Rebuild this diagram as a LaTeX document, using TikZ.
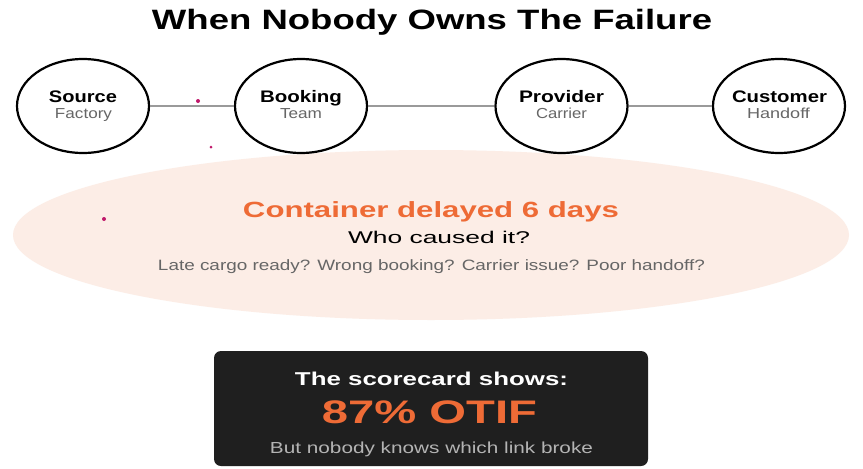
\documentclass[tikz,border=0pt]{standalone}
\usepackage{fontspec}
\setmainfont{Liberation Sans}
\usepackage{graphicx}
\definecolor{accent}{HTML}{EE6B36}
\definecolor{peach}{HTML}{FCEDE6}
\definecolor{darkbox}{HTML}{1F1F1F}
\definecolor{midgray}{HTML}{666666}
\definecolor{lightgray}{HTML}{B4B4B4}
\definecolor{linegray}{HTML}{9A9A9A}
\definecolor{dotmag}{HTML}{C0186A}
\newcommand{\fitw}[2]{\resizebox{#1pt}{\height}{#2}}
\tikzset{
  txt/.style={inner sep=0pt, anchor=base},
  stage/.style={draw=black, line width=2.2pt, fill=white, ellipse, minimum width=132pt, minimum height=94pt, inner sep=0pt},
  link/.style={draw=linegray, line width=1.8pt},
  speck/.style={fill=dotmag, draw=none, circle, inner sep=0pt}
}
\usetikzlibrary{shapes.geometric}
\begin{document}
\begin{tikzpicture}[x=1pt,y=-1pt]
\useasboundingbox (0,0) rectangle (863,469);
\fill[white] (0,0) rectangle (863,469);
% title
\node[txt] (title) at (432,29) {\fontsize{28}{30}\selectfont\bfseries\fitw{560}{When Nobody Owns The Failure}};
% big peach ellipse
\fill[peach] (431,235) ellipse [x radius=418, y radius=85];
\node[inner sep=0pt] (cloud) at (431,235) {};
% stages
\node[stage] (s1) at (83,106) {};
\node[stage] (s2) at (301,106) {};
\node[stage] (s3) at (561.5,106) {};
\node[stage] (s4) at (779,106) {};
\draw[link] (s1) -- (s2);
\draw[link] (s2) -- (s3);
\draw[link] (s3) -- (s4);
% stage texts
\node[txt] (t1a) at (83,102) {\fontsize{16.7}{18}\selectfont\bfseries\fitw{68}{Source}};
\node[txt,text=midgray] (t1b) at (83.5,118) {\fontsize{14.5}{16}\selectfont\fitw{57}{Factory}};
\node[txt] (t2a) at (301,102) {\fontsize{16.7}{18}\selectfont\bfseries\fitw{82}{Booking}};
\node[txt,text=midgray] (t2b) at (301,118) {\fontsize{14.5}{16}\selectfont\fitw{42}{Team}};
\node[txt] (t3a) at (561.5,102) {\fontsize{16.7}{18}\selectfont\bfseries\fitw{85}{Provider}};
\node[txt,text=midgray] (t3b) at (561.5,118) {\fontsize{14.5}{16}\selectfont\fitw{51}{Carrier}};
\node[txt] (t4a) at (779.5,102) {\fontsize{16.7}{18}\selectfont\bfseries\fitw{95}{Customer}};
\node[txt,text=midgray] (t4b) at (778.5,118) {\fontsize{14.5}{16}\selectfont\fitw{63}{Handoff}};
% specks
\node[speck, minimum size=4pt] (d1) at (198,101) {};
\node[speck, minimum size=3pt] (d2) at (211,147) {};
\node[speck, minimum size=4pt] (d3) at (104,219) {};
% ellipse texts
\node[txt,text=accent] (m1) at (431,217) {\fontsize{22}{24}\selectfont\bfseries\fitw{376}{Container delayed 6 days}};
\node[txt] (m2) at (439,243) {\fontsize{17}{19}\selectfont\fitw{182}{Who caused it?}};
\node[txt,text=midgray] (m3) at (431.5,270) {\fontsize{15}{17}\selectfont\fitw{547}{Late cargo ready? Wrong booking? Carrier issue? Poor handoff?}};
% scorecard
\fill[darkbox, rounded corners=7pt] (214,351) rectangle (648,466);
\node[inner sep=0pt] (card) at (431,408) {};
\node[txt,text=white] (c1) at (431.5,385) {\fontsize{18.6}{20}\selectfont\bfseries\fitw{273}{The scorecard shows:}};
\node[txt,text=accent] (c2) at (429.5,423) {\fontsize{32.6}{34}\selectfont\bfseries\fitw{215}{87\% OTIF}};
\node[txt,text=lightgray] (c3) at (431.5,453) {\fontsize{16}{18}\selectfont\fitw{323}{But nobody knows which link broke}};
\end{tikzpicture}
\end{document}
